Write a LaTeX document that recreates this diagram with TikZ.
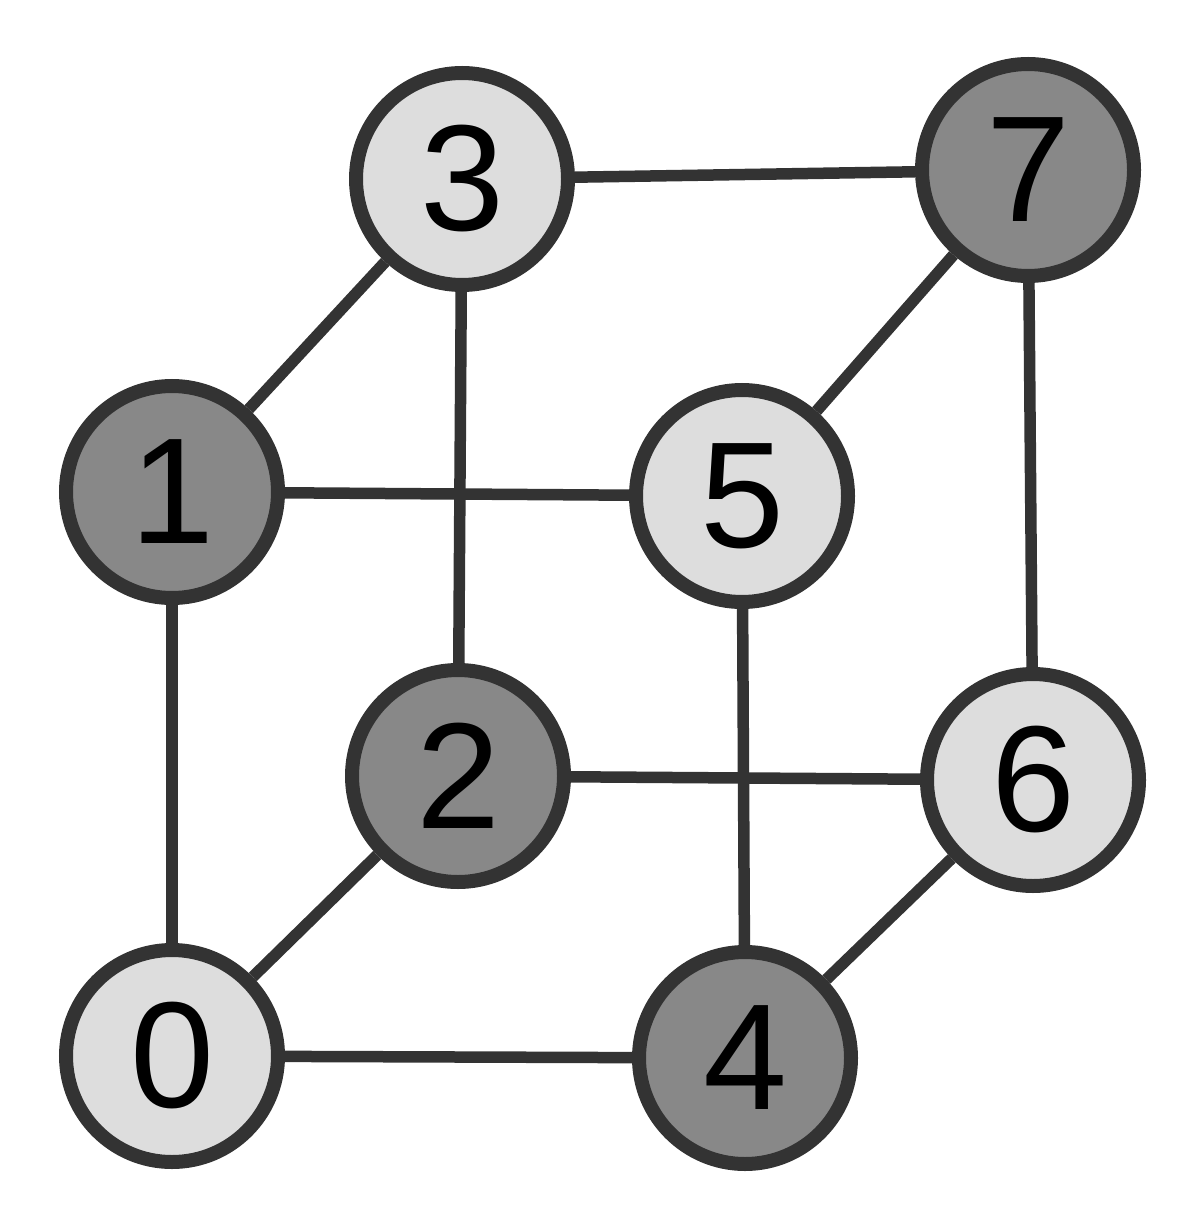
\documentclass[tikz,border=0pt]{standalone}
\usepackage{fontspec}
\setmainfont{Liberation Sans}
\definecolor{lightnode}{HTML}{DDDDDD}
\definecolor{darknode}{HTML}{888888}
\definecolor{strokec}{HTML}{333333}
\begin{document}
\begin{tikzpicture}[x=1pt,y=-1pt,
  vtx/.style={circle,draw=strokec,line width=14pt,minimum size=212pt,inner sep=0pt,
    font=\fontsize{151}{151}\selectfont},
  lightv/.style={vtx,fill=lightnode},
  darkv/.style={vtx,fill=darknode},
  edge/.style={draw=strokec,line width=11.5pt}]
\useasboundingbox (0,0) rectangle (1200,1230);
\node[lightv] (n0) at (172,1056) {0};
\node[darkv]  (n1) at (172,492) {1};
\node[darkv]  (n2) at (458,776) {2};
\node[lightv] (n3) at (462,179) {3};
\node[darkv]  (n4) at (745,1058) {4};
\node[lightv] (n5) at (742,496) {5};
\node[lightv] (n6) at (1033,780) {6};
\node[darkv]  (n7) at (1028,170) {7};
\draw[edge] (n1) -- (n3);
\draw[edge] (n3) -- (n7);
\draw[edge] (n1) -- (n5);
\draw[edge] (n3) -- (n2);
\draw[edge] (n5) -- (n7);
\draw[edge] (n7) -- (n6);
\draw[edge] (n1) -- (n0);
\draw[edge] (n5) -- (n4);
\draw[edge] (n2) -- (n6);
\draw[edge] (n0) -- (n2);
\draw[edge] (n4) -- (n6);
\draw[edge] (n0) -- (n4);
\end{tikzpicture}
\end{document}
